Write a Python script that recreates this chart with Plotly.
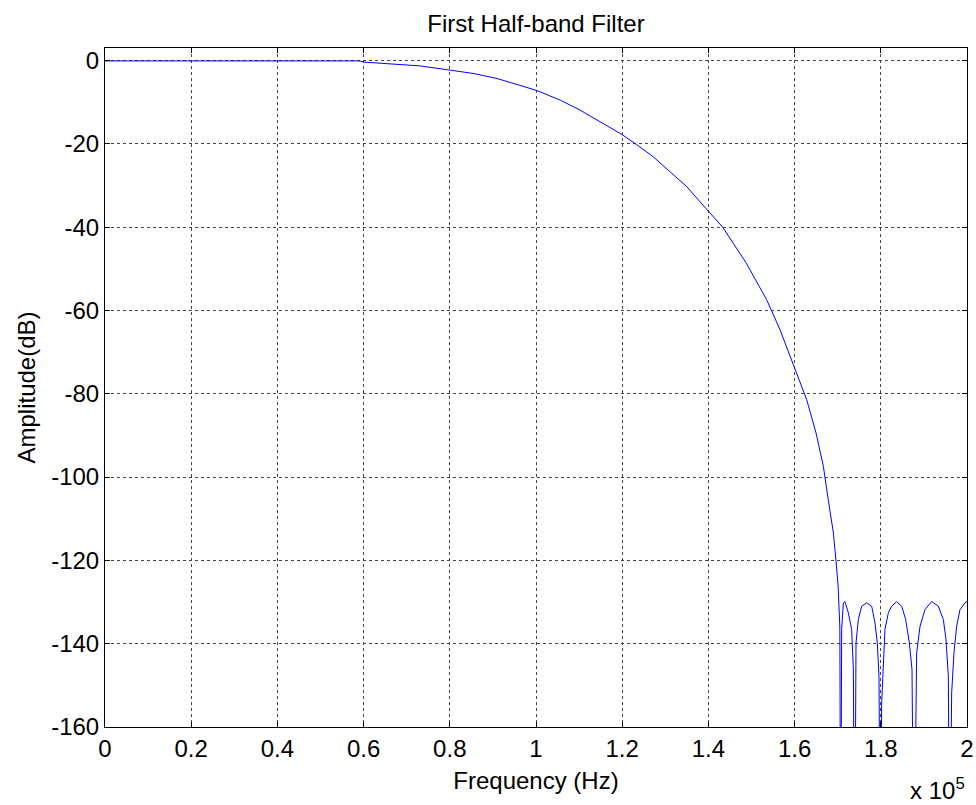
import plotly.graph_objects as go

# Frequency readings in units of 1e5 Hz, amplitude in dB
freq_e5 = [0.000, 0.300, 0.589, 0.603, 0.673, 0.731, 0.800, 0.854, 0.909, 0.947,
           1.002, 1.056, 1.102, 1.1485, 1.200, 1.2335, 1.272, 1.311, 1.350, 1.3805,
           1.398, 1.419, 1.433, 1.487, 1.535, 1.566, 1.599, 1.628, 1.6497, 1.6667,
           1.678, 1.690, 1.696, 1.701, 1.705, 1.7069,
           1.7092, 1.7131, 1.7169, 1.7247, 1.7324, 1.7363, 1.7394,
           1.7425, 1.7479, 1.7556, 1.7672, 1.7788, 1.7865, 1.7919, 1.7958, 1.7989,
           1.8020, 1.8097, 1.8175, 1.8252, 1.8368, 1.8484, 1.8577, 1.8662, 1.8724, 1.8770,
           1.8832, 1.8910, 1.9026, 1.9180, 1.9335, 1.9451, 1.9513, 1.9567, 1.9598,
           1.9644, 1.9698, 1.9760, 1.9838, 1.9954, 2.000]
amp_db = [-0.1, -0.1, -0.1, -0.4, -0.85, -1.3, -2.3, -3.1, -4.3, -5.5,
          -7.2, -9.5, -11.9, -14.7, -17.8, -20.2, -23.1, -26.7, -30.3, -33.9,
          -35.9, -38.2, -40.0, -48.5, -57.4, -64.6, -73.4, -81.4, -89.4, -97.4,
          -105.4, -113.4, -120.0, -126.2, -136.0, -200.0,
          -136.6, -130.2, -129.9, -132.6, -136.6, -146.2, -200.0,
          -139.8, -134.2, -131.0, -130.2, -131.0, -135.0, -139.8, -147.8, -200.0,
          -154.2, -136.6, -132.6, -131.0, -129.9, -131.0, -134.2, -139.8, -146.2, -200.0,
          -142.2, -135.8, -131.8, -129.9, -131.0, -134.2, -139.0, -147.8, -200.0,
          -151.8, -142.2, -135.8, -131.8, -130.2, -129.9]

x_tick_vals = [0, 0.2, 0.4, 0.6, 0.8, 1, 1.2, 1.4, 1.6, 1.8, 2]
x_tick_text = ["0", "0.2", "0.4", "0.6", "0.8", "1", "1.2", "1.4", "1.6", "1.8", "2"]
y_tick_vals = [0, -20, -40, -60, -80, -100, -120, -140, -160]
y_tick_text = ["0", "-20", "-40", "-60", "-80", "-100", "-120", "-140", "-160"]

scale = 1e5
freq_hz = [f * scale for f in freq_e5]

FONT = "Liberation Sans, Arial, sans-serif"
FS = 24

fig = go.Figure()
fig.add_trace(go.Scatter(x=freq_hz, y=amp_db, mode="lines",
                         line=dict(color="#0000FF", width=1), showlegend=False))

axis_common = dict(showline=True, linecolor="black", linewidth=1, mirror="allticks",
                   ticks="inside", ticklen=5, tickcolor="black", zeroline=False,
                   showgrid=True, gridcolor="#444444", griddash="dot", gridwidth=1,
                   automargin=False,
                   tickfont=dict(family=FONT, size=FS, color="black"))

fig.update_layout(
    width=976, height=805,
    paper_bgcolor="white", plot_bgcolor="white",
    margin=dict(l=105, r=9, t=48, b=78),
    title=dict(text="First Half-band Filter", x=0.5, xanchor="center", xref="paper",
               y=1 - 24 / 805, yanchor="middle",
               font=dict(family=FONT, size=FS, color="black")),
    xaxis=dict(range=[0, 2 * scale], tickvals=[v * scale for v in x_tick_vals], ticktext=x_tick_text,
               title=dict(text="Frequency (Hz)", font=dict(family=FONT, size=FS, color="black"), standoff=11),
               **axis_common),
    yaxis=dict(range=[-160, 3], tickvals=y_tick_vals, ticktext=y_tick_text,
               title=dict(text="Amplitude(dB)", font=dict(family=FONT, size=FS, color="black"), standoff=8),
               **axis_common),
    annotations=[dict(text="x 10<sup>5</sup>", x=1.0, xref="paper", xanchor="right",
                      y=-0.092, yref="paper", yanchor="middle", showarrow=False,
                      font=dict(family=FONT, size=FS, color="black"))],
)

fig.write_html("out.html", config={"displayModeBar": False},
               post_script="document.body.style.margin='0px';")
